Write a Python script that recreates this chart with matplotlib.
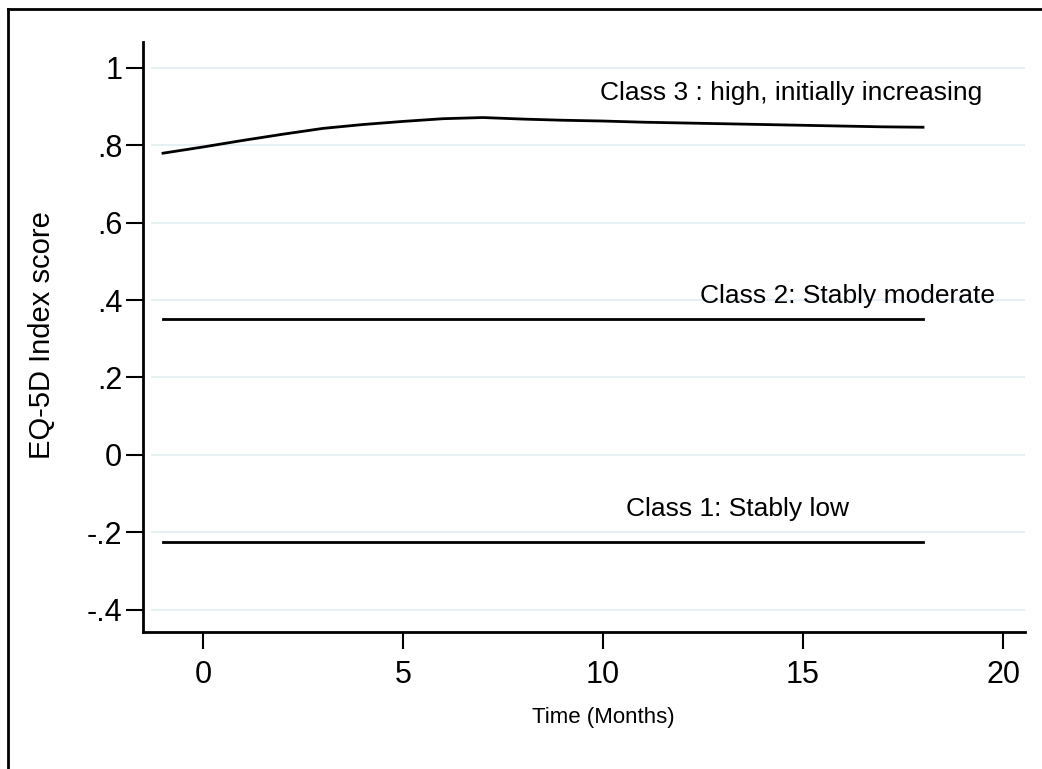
import matplotlib
matplotlib.use("Agg")
import matplotlib.pyplot as plt
from matplotlib.lines import Line2D

plt.rcParams['font.family'] = ['Liberation Sans Narrow', 'Liberation Sans', 'DejaVu Sans']

# trajectory data (months, EQ-5D index)
months = [-1, 0, 1, 2, 3, 4, 5, 6, 7, 8, 9, 10, 11, 12, 13, 14, 15, 16, 17, 18]
class3 = [0.779, 0.795, 0.812, 0.828, 0.843, 0.853, 0.861, 0.868, 0.871, 0.867,
          0.864, 0.862, 0.859, 0.857, 0.855, 0.853, 0.851, 0.849, 0.847, 0.846]
class2 = [0.35] * len(months)
class1 = [-0.225] * len(months)

labels = ["Class 3 : high, initially increasing", "Class 2: Stably moderate", "Class 1: Stably low"]
label_x = [14.7, 16.1, 13.35]
label_y = [0.935, 0.41, -0.14]

yticks = [-0.4, -0.2, 0, 0.2, 0.4, 0.6, 0.8, 1.0]
ytick_labels = ["-.4", "-.2", "0", ".2", ".4", ".6", ".8", "1"]
xticks = [0, 5, 10, 15, 20]

fig = plt.figure(figsize=(10.42, 7.69), dpi=100)
ax = fig.add_axes([143 / 1042, 1 - 632 / 769, (1025 - 143) / 1042, (632 - 42) / 769])

for y in yticks:
    ax.axhline(y, color='#e6eff1', linewidth=1.5, zorder=0, xmin=0.01)

ax.plot(months, class3, color='black', linewidth=2)
ax.plot(months, class2, color='black', linewidth=2)
ax.plot(months, class1, color='black', linewidth=2)

for t, x, y in zip(labels, label_x, label_y):
    ax.text(x, y, t, ha='center', va='center', fontsize=19)

ax.set_xlim(-1.5, 20.55)
ax.set_ylim(-0.457, 1.066)
ax.set_yticks(yticks)
ax.set_yticklabels(ytick_labels)
ax.set_xticks(xticks)
ax.tick_params(axis='both', labelsize=22, length=12, width=1.5)
ax.tick_params(axis='y', pad=3)
ax.tick_params(axis='x', pad=8)

ax.spines['top'].set_visible(False)
ax.spines['right'].set_visible(False)
ax.spines['left'].set_linewidth(2)
ax.spines['bottom'].set_linewidth(2)

ax.set_ylabel('EQ-5D Index score', fontsize=21)
ax.set_xlabel('Time (Months)', fontsize=16)
ax.yaxis.set_label_coords((42 - 143) / 882, (769 - 335 - 137) / 590)
ax.xaxis.set_label_coords((603 - 143) / 882, -(717 - 632) / 590)
ax.yaxis.label.set_va('center')
ax.xaxis.label.set_va('center')

# outer frame (top and left edges visible)
fig.add_artist(Line2D([8 / 1042, 1], [1 - 9 / 769, 1 - 9 / 769], color='black', linewidth=2, transform=fig.transFigure))
fig.add_artist(Line2D([8 / 1042, 8 / 1042], [0, 1 - 9 / 769], color='black', linewidth=2, transform=fig.transFigure))

fig.savefig('out.png', dpi=100)
